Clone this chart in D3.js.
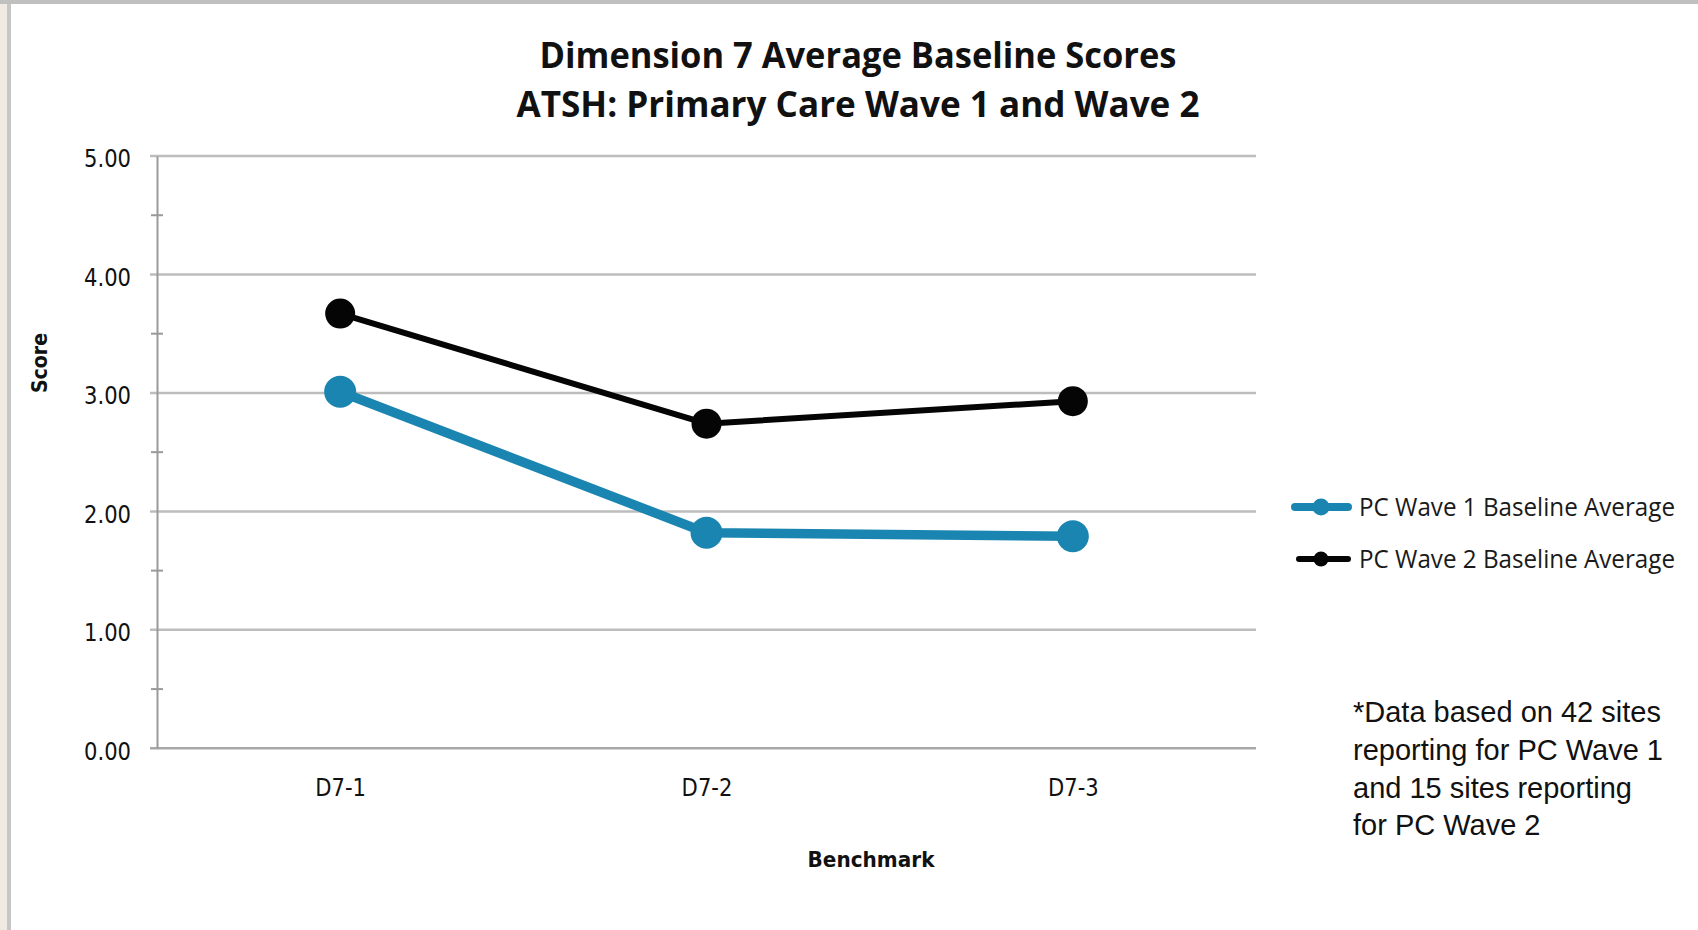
<!DOCTYPE html>
<html>
<head>
<meta charset="utf-8">
<title>Dimension 7 Average Baseline Scores</title>
<style>
  body, html { margin: 0; padding: 0; background: #fff; }
  svg { display: block; }
</style>
</head>
<body>
<svg id="svg" width="1698" height="930"></svg>
<script src="https://d3js.org/d3.v7.min.js"></script>
<script>
const benchmarks = ['D7-1', 'D7-2', 'D7-3']
const wave1Scores = [3.01, 1.82, 1.79]
const wave2Scores = [3.67, 2.74, 2.93]
const seriesNames = ['PC Wave 1 Baseline Average', 'PC Wave 2 Baseline Average']
const yTicks = [0, 1, 2, 3, 4, 5]
const yMinorTicks = [0.5, 1.5, 2.5, 3.5, 4.5]
const titleLines = ['Dimension 7 Average Baseline Scores', 'ATSH: Primary Care Wave 1 and Wave 2']
const noteLines = ['*Data based on 42 sites', 'reporting for PC Wave 1', 'and 15 sites reporting', 'for PC Wave 2']

const series = [
  { name: seriesNames[0], values: wave1Scores, color: '#1a85b0', width: 9.5, r: 16, lw: 8, lr: 8.5 },
  { name: seriesNames[1], values: wave2Scores, color: '#050505', width: 6, r: 15, lw: 6, lr: 7.5 }
]

// squash text horizontally so it matches the narrow look of the original
function squeeze(sel, factor) {
  sel.each(function () {
    const w = this.getComputedTextLength()
    d3.select(this).attr('textLength', w * factor).attr('lengthAdjust', 'spacingAndGlyphs')
  })
}

const svg = d3.select('#svg')

// window frame
svg.append('rect').attr('x', 0).attr('y', 0).attr('width', 1698).attr('height', 930).attr('fill', '#fff')
svg.append('rect').attr('x', 0).attr('y', 0).attr('width', 8).attr('height', 930).attr('fill', '#efebe3')
svg.append('rect').attr('x', 7).attr('y', 0).attr('width', 4).attr('height', 930).attr('fill', '#c6c6c6')
svg.append('rect').attr('x', 0).attr('y', 0).attr('width', 1698).attr('height', 4).attr('fill', '#c0c0c0')

const plotLeft = 157, plotRight = 1256, plotTop = 156, plotBottom = 748.3

const x = d3.scalePoint()
  .domain(benchmarks)
  .range([plotLeft, plotRight])
  .padding(0.5)

const y = d3.scaleLinear()
  .domain([0, 5])
  .range([plotBottom, plotTop])

// gridlines
svg.append('g')
  .selectAll('line')
  .data(yTicks)
  .join('line')
  .attr('x1', plotLeft - 7)
  .attr('x2', plotRight)
  .attr('y1', d => y(d))
  .attr('y2', d => y(d))
  .attr('stroke', d => d === 0 ? '#a8a8a8' : '#bdbdbd')
  .attr('stroke-width', 2.5)

// y axis
const yAxis = svg.append('g')
  .attr('transform', `translate(${plotLeft},0)`)
  .call(d3.axisLeft(y).tickValues(yTicks).tickFormat(d3.format('.2f')).tickSize(0).tickPadding(26))
yAxis.select('.domain').attr('stroke', '#9a9a9a').attr('stroke-width', 2)
yAxis.selectAll('text')
  .attr('font-family', '"DejaVu Sans", sans-serif')
  .attr('font-size', 24)
  .attr('fill', '#111')
  .attr('dy', '0.45em')
  .call(squeeze, 0.88)

svg.append('g')
  .selectAll('line')
  .data(yMinorTicks)
  .join('line')
  .attr('x1', plotLeft - 6)
  .attr('x2', plotLeft + 6)
  .attr('y1', d => y(d))
  .attr('y2', d => y(d))
  .attr('stroke', '#9a9a9a')
  .attr('stroke-width', 2)

// x axis labels
const xAxis = svg.append('g')
  .attr('transform', `translate(0,${plotBottom})`)
  .call(d3.axisBottom(x).tickSize(0).tickPadding(31))
xAxis.select('.domain').remove()
xAxis.selectAll('text')
  .attr('font-family', '"DejaVu Sans", sans-serif')
  .attr('font-size', 24)
  .attr('fill', '#111')
  .attr('dy', '0.71em')
  .call(squeeze, 0.88)

// series
const line = d3.line()
  .x((d, i) => x(benchmarks[i]))
  .y(d => y(d))

series.forEach(s => {
  svg.append('path')
    .attr('d', line(s.values))
    .attr('fill', 'none')
    .attr('stroke', s.color)
    .attr('stroke-width', s.width)
    .attr('stroke-linejoin', 'round')
  svg.append('g')
    .selectAll('circle')
    .data(s.values)
    .join('circle')
    .attr('cx', (d, i) => x(benchmarks[i]))
    .attr('cy', d => y(d))
    .attr('r', s.r)
    .attr('fill', s.color)
})

// titles
svg.append('g')
  .selectAll('text')
  .data(titleLines)
  .join('text')
  .attr('x', 858)
  .attr('y', (d, i) => 68 + i * 49)
  .attr('text-anchor', 'middle')
  .attr('font-family', '"Open Sans", sans-serif')
  .attr('font-weight', 700)
  .attr('font-size', 36)
  .attr('fill', '#111')
  .attr('textLength', (d, i) => i === 0 ? 637 : 683)
  .attr('lengthAdjust', 'spacingAndGlyphs')
  .text(d => d)

svg.append('text')
  .attr('x', 871)
  .attr('y', 867)
  .attr('text-anchor', 'middle')
  .attr('font-family', '"DejaVu Sans", sans-serif')
  .attr('font-weight', 700)
  .attr('font-size', 22)
  .attr('fill', '#111')
  .attr('textLength', 127)
  .attr('lengthAdjust', 'spacingAndGlyphs')
  .text('Benchmark')

svg.append('text')
  .attr('transform', 'translate(47,363) rotate(-90)')
  .attr('text-anchor', 'middle')
  .attr('font-family', '"DejaVu Sans", sans-serif')
  .attr('font-weight', 700)
  .attr('font-size', 22)
  .attr('fill', '#111')
  .attr('textLength', 60)
  .attr('lengthAdjust', 'spacingAndGlyphs')
  .text('Score')

// legend
const legend = svg.append('g')
  .selectAll('g')
  .data(series)
  .join('g')
  .attr('transform', (d, i) => `translate(1295,${507 + i * 52})`)
legend.append('line')
  .attr('x1', d => d.lw === 8 ? 0 : 4)
  .attr('x2', 53)
  .attr('stroke', d => d.color)
  .attr('stroke-width', d => d.lw)
  .attr('stroke-linecap', 'round')
legend.append('circle')
  .attr('cx', 26)
  .attr('r', d => d.lr)
  .attr('fill', d => d.color)
legend.append('text')
  .attr('x', 64)
  .attr('y', 9)
  .attr('font-family', '"Open Sans", sans-serif')
  .attr('font-size', 26)
  .attr('fill', '#1a1a1a')
  .attr('textLength', 316)
  .attr('lengthAdjust', 'spacingAndGlyphs')
  .text(d => d.name)

// note
svg.append('g')
  .selectAll('text')
  .data(noteLines)
  .join('text')
  .attr('x', 1353)
  .attr('y', (d, i) => 722 + i * 37.8)
  .attr('font-family', '"Liberation Sans", Arial, sans-serif')
  .attr('font-size', 29)
  .attr('fill', '#111')
  .text(d => d)
</script>
</body>
</html>
